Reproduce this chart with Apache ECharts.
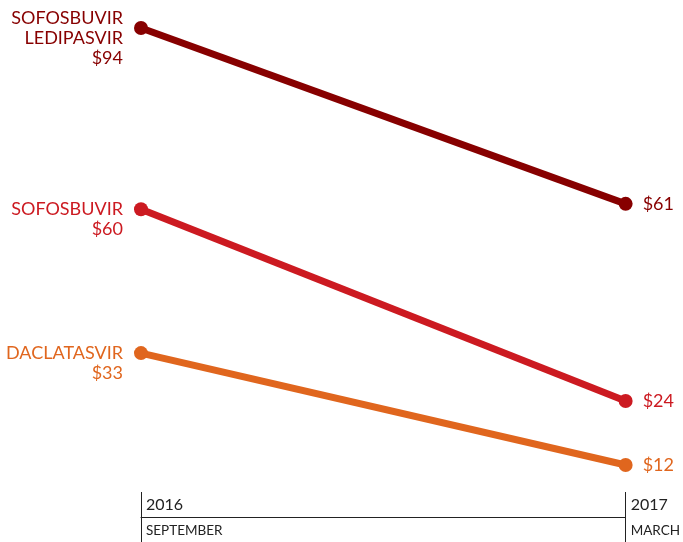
<!DOCTYPE html>
<html><head><meta charset="utf-8">
<script src="https://cdn.jsdelivr.net/npm/echarts@6/dist/echarts.min.js"></script>
<style>html,body{margin:0;padding:0;background:#fff}#c{width:683px;height:542px}</style>
</head><body><div id="c"></div>
<script>
const months = ['SEPTEMBER', 'MARCH'];
const years = ['2016', '2017'];
const drugNames = ['SOFOSBUVIR\nLEDIPASVIR', 'SOFOSBUVIR', 'DACLATASVIR'];
const sepPrices = [94, 60, 33];
const marPrices = [61, 24, 12];
const colors = ['#870000', '#cc1a21', '#e0661e'];
const FONT = 'Lato';

const series = drugNames.map((name, i) => ({
  type: 'line',
  name: name,
  xAxisIndex: 0,
  data: [
    { value: sepPrices[i], label: { show: true, position: 'left', distance: 11, align: 'right', verticalAlign: 'middle', offset: [0, 10], formatter: name + '\n$' + sepPrices[i] } },
    { value: marPrices[i], label: { show: true, position: 'right', distance: 10, align: 'left', verticalAlign: 'middle', formatter: '$' + marPrices[i] } }
  ],
  symbol: 'circle',
  symbolSize: 14,
  lineStyle: { width: 7, color: colors[i] },
  itemStyle: { color: colors[i] },
  label: { color: colors[i], fontFamily: FONT, fontSize: 18, lineHeight: 20 },
  emphasis: { disabled: true },
  animation: false
}));

const chart = echarts.init(document.getElementById('c'), null, { renderer: 'canvas' });
chart.setOption({
  animation: false,
  grid: { left: 141, right: 55, top: 28, bottom: 77 },
  xAxis: [
    {
      type: 'category', data: months, boundaryGap: false, position: 'bottom', offset: 52,
      axisLine: { show: true, lineStyle: { color: '#222', width: 1 } },
      axisTick: { show: true, length: 25, lineStyle: { color: '#222', width: 1 } },
      axisLabel: { align: 'left', margin: 7, padding: [0, 0, 0, 5], color: '#222', fontFamily: FONT, fontSize: 13.5 },
      splitLine: { show: false }
    },
    {
      type: 'category', data: years, boundaryGap: false, position: 'bottom', offset: 52,
      axisLine: { show: false },
      axisTick: { show: true, inside: true, length: 25, lineStyle: { color: '#222', width: 1 } },
      axisLabel: { inside: true, align: 'left', margin: 4, padding: [0, 0, 0, 5], color: '#222', fontFamily: FONT, fontSize: 16 },
      splitLine: { show: false }
    }
  ],
  yAxis: { type: 'value', min: 12, max: 94, show: false, splitLine: { show: false } },
  series: series
});
</script></body></html>
